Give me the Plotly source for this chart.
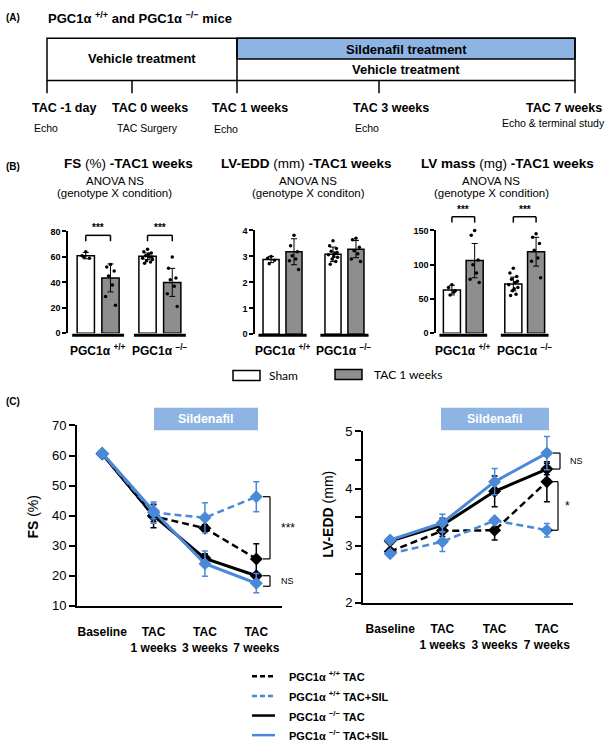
import plotly.graph_objects as go

W, H = 610, 750
FONT = "Liberation Sans, Arial, Helvetica, sans-serif"
BLUE = "#4A89D8"
LIGHTBLUE = "#8DB4E2"
GRAY = "#8E8E8E"

# ---------------- Panel A data ----------------
timeline_labels = ["TAC -1 day", "TAC 0 weeks", "TAC 1 weeks", "TAC 3 weeks", "TAC 7 weeks"]
timeline_events = ["Echo", "TAC Surgery", "Echo", "Echo", "Echo & terminal study"]

# ---------------- Panel B data ----------------
genotypes = ["PGC1α <sup>+/+</sup>", "PGC1α <sup>−/−</sup>"]
conditions = ["Sham", "TAC 1 weeks"]
# order: [+/+ Sham, +/+ TAC, -/- Sham, -/- TAC]
fs_mean = [61, 43.5, 60.5, 40]
fs_err = [2.5, 11, 2.5, 11]
fs_dots = [[64, 61, 59, 60],
           [54, 52, 49, 45, 38, 29, 22],
           [66, 64, 63, 61, 60, 59, 58, 57, 56, 55, 62, 60],
           [60, 51, 43.5, 42, 37, 31, 21]]
edd_mean = [2.88, 3.18, 3.08, 3.28]
edd_err = [0.12, 0.5, 0.28, 0.33]
edd_dots = [[3.0, 2.93, 2.85, 2.72],
            [3.81, 3.41, 3.18, 3.03, 2.9, 2.83, 2.5],
            [3.6, 3.41, 3.3, 3.2, 3.13, 3.06, 2.97, 2.9, 2.8, 2.7, 3.0, 3.15],
            [3.7, 3.64, 3.35, 3.22, 3.1, 2.9, 2.8]]
mass_mean = [63, 106, 72, 119]
mass_err = [7, 25, 10, 21]
mass_dots = [[71, 67, 62, 56, 60],
             [150, 143, 107, 100, 88, 79, 74],
             [95, 88, 83, 79, 74, 71, 67, 62, 57, 55, 65, 76],
             [145, 140, 131, 121, 110, 105, 81]]
b_ticks = [[0, 20, 40, 60, 80], [0, 1, 2, 3, 4], [0, 50, 100, 150]]

# ---------------- Panel C data ----------------
timepoints = ["Baseline", "TAC<br>1 weeks", "TAC<br>3 weeks", "TAC<br>7 weeks"]
series_names = ["PGC1α <sup>+/+</sup> TAC", "PGC1α <sup>+/+</sup> TAC+SIL",
                "PGC1α <sup>−/−</sup> TAC", "PGC1α <sup>−/−</sup> TAC+SIL"]
fs_wt_tac = [60.5, 39.8, 35.8, 25.6]
fs_wt_tac_err = [0.8, 3.8, 1.2, 5.0]
fs_wt_sil = [60.5, 41.0, 39.3, 46.3]
fs_wt_sil_err = [0.8, 3.5, 5.0, 5.0]
fs_ko_tac = [60.6, 40.0, 25.8, 20.0]
fs_ko_tac_err = [0.8, 2.0, 1.5, 1.0]
fs_ko_sil = [60.8, 41.5, 24.0, 17.5]
fs_ko_sil_err = [0.8, 2.5, 4.2, 3.2]

edd_wt_tac = [2.90, 3.26, 3.27, 4.12]
edd_wt_tac_err = [0.05, 0.10, 0.17, 0.35]
edd_wt_sil = [2.86, 3.07, 3.44, 3.27]
edd_wt_sil_err = [0.04, 0.17, 0.05, 0.12]
edd_ko_tac = [3.08, 3.36, 3.95, 4.34]
edd_ko_tac_err = [0.05, 0.12, 0.27, 0.10]
edd_ko_sil = [3.10, 3.40, 4.12, 4.62]
edd_ko_sil_err = [0.05, 0.15, 0.23, 0.29]

# ---------------- helpers ----------------
def px(x):
    return x / W


def py(y):
    return 1 - y / H


shapes = []
annotations = []


def line(x0, y0, x1, y1, color="black", width=1.5, dash=None):
    shapes.append(dict(type="line", xref="paper", yref="paper",
                       x0=px(x0), y0=py(y0), x1=px(x1), y1=py(y1),
                       line=dict(color=color, width=width, dash=dash)))


def rect(x0, y0, x1, y1, fill="rgba(0,0,0,0)", lc="black", lw=1.5):
    shapes.append(dict(type="rect", xref="paper", yref="paper",
                       x0=px(x0), y0=py(y0), x1=px(x1), y1=py(y1),
                       fillcolor=fill, line=dict(color=lc, width=lw), layer="below"))


def text(s, x, y, size, bold=False, xa="center", ya="middle", color="black", family=FONT, angle=0):
    annotations.append(dict(text=("<b>" + s + "</b>") if bold else s,
                            x=px(x), y=py(y), xref="paper", yref="paper",
                            xanchor=xa, yanchor=ya, showarrow=False, textangle=angle,
                            font=dict(size=size, color=color, family=family)))


fig = go.Figure()
layout = {}

# ---------------- Panel A ----------------
text("(A)", 4, 11, 10, bold=True, xa="left")
text("PGC1α <sup>+/+</sup> and PGC1α <sup>−/−</sup> mice", 46, 11, 13, bold=True, xa="left")
rect(237, 32, 575, 53, fill=LIGHTBLUE)
rect(47, 32, 575, 75)
line(237, 32, 237, 88)
for tx in [47, 132, 379, 575]:
    line(tx, 75, tx, 88)
text("Vehicle treatment", 142, 53, 13, bold=True)
text("Sildenafil treatment", 406, 43, 13, bold=True)
text("Vehicle treatment", 406, 64, 13, bold=True)
lab_x = [(30, "left"), (110, "left"), (210, "left"), (351, "left"), (604, "right")]
ev_x = [(32, "left"), (115, "left"), (212, "left"), (353, "left"), (607, "right")]
ev_y = [123, 123, 124, 123, 118]
for (x, a), s in zip(lab_x, timeline_labels):
    text(s, x, 103, 12.5, bold=True, xa=a)
for (x, a), s, yy in zip(ev_x, timeline_events, ev_y):
    text(s, x, yy, 10.5, xa=a)

# ---------------- Panel B ----------------
B_AX = [
    dict(x=(68, 192), y=(229, 333), yr=(0, 80), xr=(-0.72, 4.3), pos=[0, 1, 2.5, 3.5], bw=0.7,
         br_y=233, st_y=225),
    dict(x=(255, 372), y=(228, 334), yr=(0, 4), xr=(-0.7, 4.4), pos=[0, 1, 2.7, 3.7], bw=0.7,
         br_y=None, st_y=None),
    dict(x=(436, 552), y=(228, 333), yr=(0, 150), xr=(-0.7, 4.4), pos=[0, 1, 2.7, 3.7], bw=0.75,
         br_y=214, st_y=207),
]
B_MEANS = [fs_mean, edd_mean, mass_mean]
B_ERRS = [fs_err, edd_err, mass_err]
B_DOTS = [fs_dots, edd_dots, mass_dots]
JIT = [0.0, -0.15, 0.15, -0.08, 0.08, -0.2, 0.2, -0.04, 0.12, -0.12, 0.04, 0.18, -0.18]


def bx(ax, v):
    x0, x1 = ax["x"]
    r0, r1 = ax["xr"]
    return x0 + (v - r0) / (r1 - r0) * (x1 - x0)


for i, (ax, means, errs, dots, tk) in enumerate(zip(B_AX, B_MEANS, B_ERRS, B_DOTS, b_ticks), start=1):
    xa = "x" if i == 1 else f"x{i}"
    ya = "y" if i == 1 else f"y{i}"
    pos = ax["pos"]
    for k, color, name in [(0, "white", conditions[0]), (1, GRAY, conditions[1])]:
        idx = [k, k + 2]
        fig.add_trace(go.Bar(
            x=[pos[j] for j in idx], y=[means[j] for j in idx], width=ax["bw"],
            marker=dict(color=color, line=dict(color="black", width=1.5)),
            error_y=dict(type="data", array=[errs[j] for j in idx], color="black", thickness=1, width=3),
            xaxis=xa, yaxis=ya, name=name, showlegend=False))
    dx, dy = [], []
    for j in range(4):
        for n, v in enumerate(dots[j]):
            dx.append(pos[j] + JIT[n % len(JIT)])
            dy.append(v)
    fig.add_trace(go.Scatter(x=dx, y=dy, mode="markers", marker=dict(color="black", size=3.5),
                             xaxis=xa, yaxis=ya, cliponaxis=False, showlegend=False))
    layout["xaxis" if i == 1 else f"xaxis{i}"] = dict(
        domain=[px(ax["x"][0]), px(ax["x"][1])], range=list(ax["xr"]), visible=False, anchor=ya)
    layout["yaxis" if i == 1 else f"yaxis{i}"] = dict(
        domain=[py(ax["y"][1]), py(ax["y"][0])], range=list(ax["yr"]), anchor=xa,
        showline=True, linecolor="black", linewidth=1.5, ticks="outside", ticklen=4, tickwidth=1.5,
        tickcolor="black", tickvals=tk, ticktext=[f"<b>{v}</b>" for v in tk],
        tickfont=dict(size=9, family=FONT, color="black"), showgrid=False, zeroline=False)
    for g in range(2):
        a, b = pos[2 * g], pos[2 * g + 1]
        line(bx(ax, a - 0.55), 335, bx(ax, b + 0.55), 335, width=3)
        text(genotypes[g], (bx(ax, a) + bx(ax, b)) / 2, 350, 12, bold=True)
        if ax["br_y"] is not None:
            x0, x1 = bx(ax, a), bx(ax, b)
            yb = ax["br_y"]
            line(x0, yb, x1, yb, width=1.5)
            line(x0, yb, x0, yb + 6, width=1.5)
            line(x1, yb, x1, yb + 6, width=1.5)
            text("***", (x0 + x1) / 2, ax["st_y"], 10, bold=True)

text("(B)", 4, 163, 10, bold=True, xa="left")
text("<b>FS</b> (%) <b>-TAC1 weeks</b>", 128, 160, 13.5)
text("<b>LV-EDD</b> (mm) <b>-TAC1 weeks</b>", 306, 160, 13.5)
text("<b>LV mass</b> (mg) <b>-TAC1 weeks</b>", 507, 160, 13.5)
for cx, sub in [(115, "(genotype X condition)"), (308, "(genotype X conditon)"), (491, "(genotype X condition)")]:
    text("ANOVA NS", cx, 178, 11.5)
    text(sub, cx, 190, 11.5)

# legend B
rect(233, 371, 260, 381, fill="white")
text(conditions[0], 267, 376, 12, xa="left", family="Lato, Open Sans, sans-serif")
rect(335, 370, 362, 380, fill=GRAY)
text(conditions[1], 372, 375, 12, xa="left", family="Lato, Open Sans, sans-serif")

# ---------------- Panel C ----------------
text("(C)", 4, 403, 10, bold=True, xa="left")
C_AX = [
    dict(x=(77, 282), y=(427, 611), xr=(-0.49, 3.5), yr=(10, 70), dtick=10, minor=None,
         data=[(fs_wt_tac, fs_wt_tac_err), (fs_wt_sil, fs_wt_sil_err),
               (fs_ko_tac, fs_ko_tac_err), (fs_ko_sil, fs_ko_sil_err)],
         title="<b>FS</b> (%)", tx=33, ty=520, box=(154, 409, 258, 432)),
    dict(x=(363, 573), y=(433, 608), xr=(-0.52, 3.5), yr=(2, 5), dtick=1, minor=0.5,
         data=[(edd_wt_tac, edd_wt_tac_err), (edd_wt_sil, edd_wt_sil_err),
               (edd_ko_tac, edd_ko_tac_err), (edd_ko_sil, edd_ko_sil_err)],
         title="<b>LV-EDD</b> (mm)", tx=328, ty=518, box=(441, 409, 549, 432)),
]
STY = [dict(color="black", dash="7px,4px", width=2.5),
       dict(color=BLUE, dash="7px,4px", width=2.5),
       dict(color="black", dash="solid", width=3),
       dict(color=BLUE, dash="solid", width=3)]
DRAW_ORDER = [0, 2, 1, 3]


def cy(ax, v):
    ytop, ybot = ax["y"]
    r0, r1 = ax["yr"]
    return ybot - (v - r0) / (r1 - r0) * (ybot - ytop)


positions = list(range(len(timepoints)))
for k, ax in enumerate(C_AX):
    i = 4 + k
    xa, ya = f"x{i}", f"y{i}"
    for s in DRAW_ORDER:
        vals, errs = ax["data"][s]
        st = STY[s]
        fig.add_trace(go.Scatter(
            x=positions, y=vals, mode="lines+markers", name=series_names[s],
            line=dict(color=st["color"], width=st["width"], dash=st["dash"]),
            marker=dict(symbol="diamond", size=10, color=st["color"]),
            error_y=dict(type="data", array=errs, color=st["color"], thickness=1.5, width=3),
            xaxis=xa, yaxis=ya, cliponaxis=False, showlegend=False))
    layout[f"xaxis{i}"] = dict(
        domain=[px(ax["x"][0]), px(ax["x"][1])], range=list(ax["xr"]), anchor=ya,
        showline=True, linecolor="black", linewidth=2, ticks="", showgrid=False, zeroline=False,
        tickvals=positions, ticktext=[f"<b>{t}</b>" for t in timepoints],
        tickfont=dict(size=12, family=FONT, color="black"), ticklabelstandoff=14)
    yax = dict(
        domain=[py(ax["y"][1]), py(ax["y"][0])], range=list(ax["yr"]), anchor=xa,
        showline=True, linecolor="black", linewidth=2, ticks="outside", ticklen=6, tickwidth=2,
        tickcolor="black", dtick=ax["dtick"], tick0=ax["yr"][0], showgrid=False, zeroline=False,
        tickfont=dict(size=13, family=FONT, color="black"))
    if ax["minor"]:
        yax["minor"] = dict(dtick=ax["minor"], ticks="outside", ticklen=6, tickwidth=2,
                            tickcolor="black", showgrid=False)
    layout[f"yaxis{i}"] = yax
    text(ax["title"], ax["tx"], ax["ty"], 14, angle=-90)
    bx0, by0, bx1, by1 = ax["box"]
    rect(bx0, by0, bx1, by1, fill=LIGHTBLUE, lc=LIGHTBLUE, lw=0)
    text("Sildenafil", (bx0 + bx1) / 2, (by0 + by1) / 2, 12.5, bold=True, color="white")

axF, axE = C_AX


def vbracket(ax, v0, v1, xline, label, lx, size):
    y0, y1 = cy(ax, v0), cy(ax, v1)
    line(xline, y0, xline, y1, width=1.2)
    line(xline - 7, y0, xline, y0, width=1.2)
    line(xline - 7, y1, xline, y1, width=1.2)
    text(label, lx, (y0 + y1) / 2, size)


vbracket(axF, fs_wt_sil[3], fs_wt_tac[3], 270, "***", 288, 12)
vbracket(axF, fs_ko_tac[3], fs_ko_sil[3] - 1.0, 270, "NS", 287, 9)
vbracket(axE, edd_ko_sil[3], edd_ko_tac[3], 560, "NS", 576, 9)
vbracket(axE, edd_wt_tac[3], edd_wt_sil[3], 558, "*", 567, 12)

# legend C
leg_y = [683, 703, 723, 743]
for s, yy in enumerate(leg_y):
    st = STY[s]
    line(252, yy, 275, yy, color=st["color"], width=2.5,
         dash=None if st["dash"] == "solid" else "5px,3px")
    text(series_names[s], 287, yy, 11, bold=True, xa="left")

fig.update_layout(
    width=W, height=H, margin=dict(l=0, r=0, t=0, b=0),
    paper_bgcolor="white", plot_bgcolor="white", barmode="overlay", showlegend=False,
    font=dict(family=FONT, color="black"), shapes=shapes, annotations=annotations, **layout)

fig.write_html("out.html", config={"displayModeBar": False},
               post_script="document.body.style.margin='0px';document.body.style.padding='0px';"
                           "document.body.style.overflow='hidden';")
